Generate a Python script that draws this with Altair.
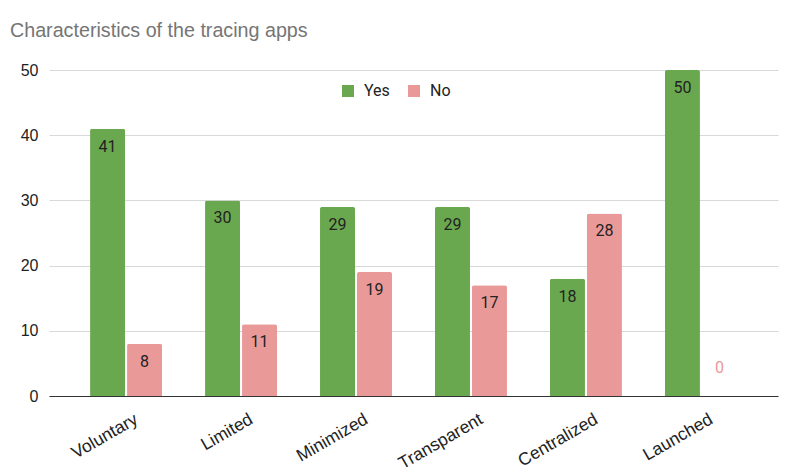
import altair as alt
import pandas as pd

categories = ["Voluntary", "Limited", "Minimized", "Transparent", "Centralized", "Launched"]
yes_values = [41, 30, 29, 29, 18, 50]
no_values = [8, 11, 19, 17, 28, 0]
series = ["Yes", "No"]
colors = ["#6aa84f", "#ea9999"]

rows = []
for c, y, n in zip(categories, yes_values, no_values):
    rows.append({"cat": c, "series": "Yes", "value": y})
    rows.append({"cat": c, "series": "No", "value": n})
df = pd.DataFrame(rows)

x_enc = alt.X("cat:N", sort=categories, title=None,
              scale=alt.Scale(paddingInner=0.374, paddingOuter=0.357),
              axis=alt.Axis(labelAngle=-30, labelAlign="right", labelBaseline="top",
                            labelFontSize=17.5, labelColor="#222222", labelFont="Liberation Sans",
                            labelPadding=14, labelOffset=6, ticks=False,
                            domainColor="#333333", domainWidth=1, grid=False))
xoff = alt.XOffset("series:N", sort=series, scale=alt.Scale(paddingInner=0.054))
y_enc = alt.Y("value:Q", title=None,
              scale=alt.Scale(domain=[0, 50], nice=False),
              axis=alt.Axis(values=[0, 10, 20, 30, 40, 50], ticks=False, domain=False,
                            labelFontSize=16, labelColor="#222222", labelFont="Liberation Sans",
                            labelPadding=11, gridColor="#d9d9d9", gridWidth=1))

base = alt.Chart(df).encode(x=x_enc, xOffset=xoff)

bars = base.mark_bar(cornerRadiusTopLeft=2, cornerRadiusTopRight=2).encode(
    y=y_enc,
    color=alt.Color("series:N", sort=series,
                    scale=alt.Scale(domain=series, range=colors),
                    legend=alt.Legend(title=None, orient="none", legendX=291, legendY=13,
                                      direction="horizontal", symbolType="square",
                                      symbolSize=144, symbolStrokeWidth=0,
                                      labelFontSize=16, labelFont="Roboto",
                                      labelColor="#222222", labelOffset=8,
                                      columnPadding=16)),
)

labels_in = base.transform_filter("datum.value > 0").mark_text(
    baseline="top", dy=10, fontSize=16, font="Roboto", color="#222222"
).encode(y="value:Q", text="value:Q")

labels_zero = base.transform_filter("datum.value == 0").mark_text(
    baseline="alphabetic", dy=-23, fontSize=16, font="Roboto", color="#ea9999"
).encode(y="value:Q", text="value:Q")

chart = alt.layer(bars, labels_in, labels_zero).properties(
    width=729, height=326,
    padding={"left": 41, "top": 62, "right": 4, "bottom": 79},
    autosize=alt.AutoSizeParams(type="none"),
    title=alt.TitleParams("Characteristics of the tracing apps", anchor="start",
                          frame="group",
                          fontSize=19.7, font="Liberation Sans", fontWeight="normal",
                          color="#757575", dx=-39, offset=21),
).configure_view(stroke=None)

chart.save("out.html", embed_options={"renderer": "svg", "actions": False})
